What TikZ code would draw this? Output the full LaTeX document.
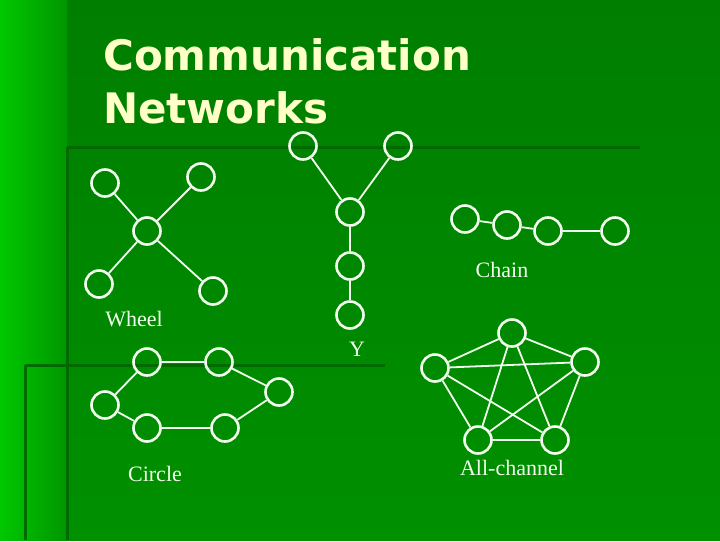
\documentclass[tikz,border=0pt]{standalone}
\usepackage{fontspec}
\setmainfont{Liberation Serif}
\newfontfamily\titlefont{DejaVu Sans}
\definecolor{bgg}{HTML}{009000}
\definecolor{topg}{HTML}{007E00}
\definecolor{lgg}{HTML}{00C800}
\definecolor{dkg}{HTML}{006A00}
\definecolor{ttl}{HTML}{FFFFC8}
\definecolor{ln}{HTML}{F2FFEE}
\begin{document}
\begin{tikzpicture}[x=1pt,y=-1pt,
  nd/.style={circle,draw=ln,line width=2.6pt,minimum size=27pt,inner sep=0pt},
  ed/.style={draw=ln,line width=1.8pt},
  lb/.style={text=ln,font=\fontsize{22}{24}\selectfont},
  sep/.style={draw=dkg,line width=3pt}]
\shade[top color=topg,bottom color=bgg] (0,0) rectangle (720,540);
\shade[left color=lgg,right color=bgg!90!lgg] (0,0) rectangle (67,540);
\draw[sep] (67,147) -- (640,147);
\draw[sep] (67,147) -- (67,540);
\draw[sep] (25,365) -- (385,365);
\draw[sep] (25,365) -- (25,540);
\node[anchor=north west,text=ttl,font=\titlefont\bfseries\fontsize{42}{53}\selectfont,align=left,inner sep=0pt] (title) at (103,38) {Communication\\Networks};
% Wheel
\node[nd] (wc) at (147,231) {};
\node[nd] (w1) at (105,183) {};
\node[nd] (w2) at (201,177) {};
\node[nd] (w3) at (99,284) {};
\node[nd] (w4) at (213,291) {};
\foreach \n in {w1,w2,w3,w4} \draw[ed] (wc) -- (\n);
\node[lb] (wl) at (134,319) {Wheel};
% Y
\node[nd] (y1) at (303,146) {};
\node[nd] (y2) at (398,146) {};
\node[nd] (y3) at (350,212) {};
\node[nd] (y4) at (350,266) {};
\node[nd] (y5) at (350,315) {};
\draw[ed] (y1)--(y3); \draw[ed] (y2)--(y3); \draw[ed] (y3)--(y4); \draw[ed] (y4)--(y5);
\node[lb] (yl) at (357,349) {Y};
% Chain
\node[nd] (c1) at (465,219) {};
\node[nd] (c2) at (507,225) {};
\node[nd] (c3) at (548,231) {};
\node[nd] (c4) at (615,231) {};
\draw[ed] (c1)--(c2); \draw[ed] (c2)--(c3); \draw[ed] (c3)--(c4);
\node[lb] (cl) at (502,270) {Chain};
% Circle
\node[nd] (r1) at (147,362) {};
\node[nd] (r2) at (219,362) {};
\node[nd] (r3) at (279,392) {};
\node[nd] (r4) at (225,428) {};
\node[nd] (r5) at (147,428) {};
\node[nd] (r6) at (105,405) {};
\draw[ed] (r1)--(r2)--(r3)--(r4)--(r5)--(r6)--(r1);
\node[lb] (rl) at (155,474) {Circle};
% All-channel
\node[nd] (a1) at (512,333) {};
\node[nd] (a2) at (585,362) {};
\node[nd] (a3) at (555,440) {};
\node[nd] (a4) at (478,440) {};
\node[nd] (a5) at (435,368) {};
\foreach \a/\b in {a1/a2,a1/a3,a1/a4,a1/a5,a2/a3,a2/a4,a2/a5,a3/a4,a3/a5,a4/a5} \draw[ed] (\a)--(\b);
\node[lb] (al) at (512,468) {All-channel};
\end{tikzpicture}
\end{document}
